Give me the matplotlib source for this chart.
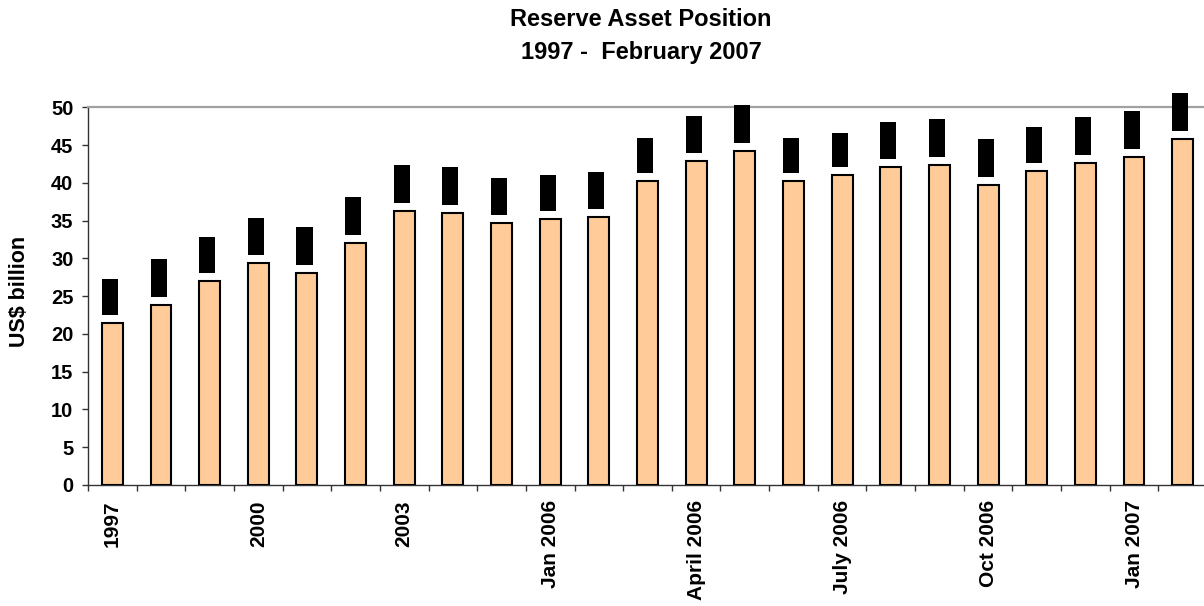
import matplotlib
matplotlib.use("Agg")
import matplotlib.pyplot as plt
import numpy as np

plt.rcParams['font.family'] = ['Liberation Sans', 'DejaVu Sans']
plt.rcParams['font.weight'] = 'bold'

categories = ["1997", "1998", "1999", "2000", "2001", "2002", "2003", "2004", "2005",
              "Jan 2006", "Feb 2006", "Mar 2006", "April 2006", "May 2006", "June 2006",
              "July 2006", "Aug 2006", "Sep 2006", "Oct 2006", "Nov 2006", "Dec 2006",
              "Jan 2007", "Feb 2007"]
tick_labels = ["1997", "", "", "2000", "", "", "2003", "", "",
               "Jan 2006", "", "", "April 2006", "", "",
               "July 2006", "", "", "Oct 2006", "", "",
               "Jan 2007", ""]
reserves = [21.5, 23.85, 27.0, 29.4, 28.1, 32.05, 36.25, 36.0, 34.7,
            35.2, 35.5, 40.3, 42.9, 44.2, 40.25, 41.0, 42.1, 42.4,
            39.7, 41.6, 42.6, 43.4, 45.8]
black_low = [22.5, 24.9, 28.1, 30.5, 29.1, 33.1, 37.3, 37.1, 35.75,
             36.3, 36.5, 41.3, 44.0, 45.3, 41.3, 42.1, 43.2, 43.4,
             40.8, 42.6, 43.7, 44.5, 46.9]
black_high = [27.25, 29.9, 32.8, 35.4, 34.1, 38.1, 42.3, 42.1, 40.7,
              41.0, 41.5, 46.0, 48.9, 50.3, 46.0, 46.6, 48.1, 48.4,
              45.8, 47.4, 48.7, 49.5, 51.9]

fig = plt.figure(figsize=(12.04, 6.06), dpi=100)
W, H = 1204, 606
left_px, right_px, top_px, bot_px = 88, 1207, 107.3, 485
ax = fig.add_axes([left_px / W, 1 - bot_px / H, (right_px - left_px) / W, (bot_px - top_px) / H])

x = np.arange(len(categories))
ax.bar(x, reserves, width=0.43, color='#FFCC99', edgecolor='black', linewidth=1.5, zorder=3)
bh = np.array(black_high) - np.array(black_low)
ax.bar(x - 0.05, bh, bottom=black_low, width=0.33, color='black', edgecolor='none',
       zorder=4, clip_on=False)

ax.set_xlim(-0.5, len(categories) - 0.5)
ax.set_ylim(0, 50)
ax.set_yticks(np.arange(0, 51, 5))
ax.set_yticklabels([str(v) for v in range(0, 51, 5)], fontsize=14.5, fontweight='bold')

ax.set_xticks(x)
ax.set_xticklabels(tick_labels, rotation=90, fontsize=15, fontweight='bold')
ax.tick_params(axis='x', which='major', length=0, pad=11)
ax.set_xticks(np.arange(-0.5, len(categories), 1.0), minor=True)
ax.tick_params(axis='x', which='minor', length=4, width=1, color='#333333', direction='out')
ax.tick_params(axis='y', which='major', length=4.5, width=1, color='#333333', direction='out', pad=6)

for s in ['left', 'bottom']:
    ax.spines[s].set_color('#333333')
    ax.spines[s].set_linewidth(1.0)
ax.spines['top'].set_color('#A0A0A0')
ax.spines['top'].set_linewidth(1.6)
ax.spines['right'].set_visible(False)

fig.text(641 / W, 1 - 19 / H, "Reserve Asset Position", ha='center', va='center',
         fontsize=17, fontweight='bold')
fig.text(641 / W, 1 - 53 / H, "1997 -  February 2007", ha='center', va='center',
         fontsize=17, fontweight='bold')
fig.text(20 / W, 1 - 291 / H, "US$ billion", rotation=90, ha='center', va='center',
         fontsize=15.5, fontweight='bold')

fig.savefig("out.png", dpi=100)
